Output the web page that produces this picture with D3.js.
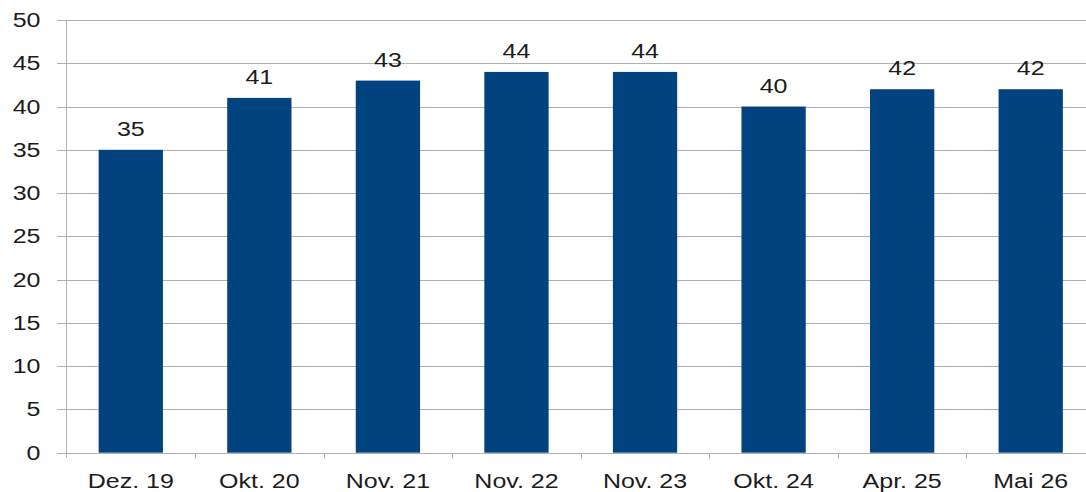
<!DOCTYPE html>
<html><head><meta charset="utf-8">
<script src="https://cdn.jsdelivr.net/npm/d3@7"></script>
<style>body{margin:0;background:#fff}svg{display:block}</style>
</head><body>
<svg id="c" width="1086" height="492"></svg>
<script>
const categories = ["Dez. 19","Okt. 20","Nov. 21","Nov. 22","Nov. 23","Okt. 24","Apr. 25","Mai 26"];
const values = [35,41,43,44,44,40,42,42];
const yTicks = [0,5,10,15,20,25,30,35,40,45,50];

(function(){
const svg = d3.select("#c");
const mLeft = 66.5, mRight = 1095, mTop = 20, mBottom = 452.7;
const x = d3.scaleBand().domain(categories).range([mLeft, mRight]).paddingInner(0.5).paddingOuter(0.25);
const y = d3.scaleLinear().domain([0,50]).range([mBottom, mTop]);
const font = "'Liberation Sans', Arial, sans-serif";
const SX = 1.25, FS = 20, TXT = "#1c1c1c";

function label(g, tx, ty, anchor, txt) {
  g.append("text")
    .attr("transform", `translate(${tx},${ty}) scale(${SX},1)`)
    .attr("text-anchor", anchor).attr("font-family", font).attr("font-size", FS).attr("fill", TXT)
    .text(txt);
}

// grid
svg.append("g").selectAll("line").data(yTicks).join("line")
  .attr("x1", 57).attr("x2", 1086)
  .attr("y1", d => Math.round(y(d))+0.5).attr("y2", d => Math.round(y(d))+0.5)
  .attr("stroke", "#b0b0b0").attr("stroke-width", 1);

// y axis line
svg.append("line").attr("x1", mLeft).attr("x2", mLeft).attr("y1", y(50)).attr("y2", y(0)+5)
  .attr("stroke", "#b0b0b0");
const yl = svg.append("g");
yTicks.forEach(t => label(yl, 40.5, y(t) + 7, "end", t));

// bars
svg.append("g").selectAll("rect").data(values).join("rect")
  .attr("x", (d,i) => x(categories[i])).attr("width", x.bandwidth())
  .attr("y", d => y(d)).attr("height", d => y(0) - y(d))
  .attr("fill", "#02427f");

// x axis ticks
const step = x.step();
const xb = d3.scaleLinear().domain([0, categories.length]).range([mLeft, mLeft + step*categories.length]);
const xa = svg.append("g").attr("transform", `translate(0,${Math.round(mBottom)+0.5})`);
xa.selectAll("line.t").data(d3.range(1, categories.length)).join("line")
  .attr("class","t")
  .attr("x1", d => Math.round(xb(d))+0.5).attr("x2", d => Math.round(xb(d))+0.5).attr("y1", 0).attr("y2", 5)
  .attr("stroke", "#b0b0b0");
const xl = svg.append("g");
categories.forEach(c => label(xl, x(c) + x.bandwidth()/2, 488, "middle", c));

// value labels
const vl = svg.append("g");
values.forEach((v,i) => label(vl, x(categories[i]) + x.bandwidth()/2, y(v) - 14, "middle", v));
})();
</script>
</body></html>
